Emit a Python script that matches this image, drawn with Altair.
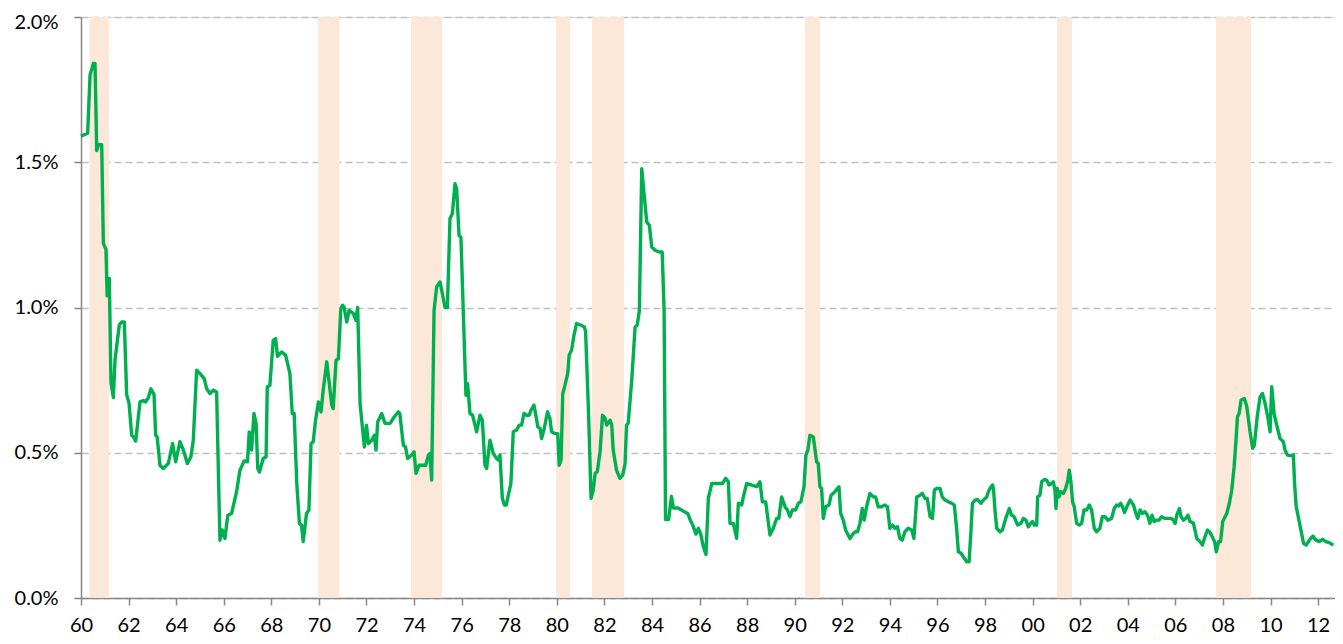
import altair as alt
import pandas as pd

# ---- data (year as decimal, value in %) ----
S_1960S = [
    (1960.00, 1.59), (1960.28, 1.60), (1960.38, 1.80), (1960.52, 1.84), (1960.59, 1.84),
    (1960.66, 1.54), (1960.73, 1.56), (1960.87, 1.56), (1960.94, 1.22), (1961.05, 1.20),
    (1961.10, 1.04), (1961.19, 1.10), (1961.26, 0.74), (1961.36, 0.69), (1961.43, 0.82),
    (1961.61, 0.94), (1961.71, 0.95), (1961.82, 0.95), (1961.92, 0.70), (1962.02, 0.67),
    (1962.13, 0.56), (1962.20, 0.555), (1962.30, 0.54), (1962.48, 0.675), (1962.62, 0.68),
    (1962.72, 0.675), (1962.83, 0.69), (1962.94, 0.72), (1963.07, 0.70), (1963.14, 0.56),
    (1963.20, 0.555), (1963.32, 0.457), (1963.46, 0.446), (1963.67, 0.463), (1963.85, 0.532),
    (1963.98, 0.469), (1964.16, 0.538), (1964.30, 0.51), (1964.47, 0.463), (1964.62, 0.486),
    (1964.72, 0.543), (1964.86, 0.784), (1965.00, 0.773), (1965.18, 0.755), (1965.28, 0.721),
    (1965.42, 0.704), (1965.56, 0.715), (1965.70, 0.709), (1965.84, 0.199), (1965.94, 0.234),
    (1966.05, 0.205), (1966.17, 0.285), (1966.33, 0.291), (1966.54, 0.366), (1966.68, 0.44),
    (1966.86, 0.472), (1967.00, 0.469), (1967.07, 0.572), (1967.17, 0.509), (1967.27, 0.635),
    (1967.36, 0.601), (1967.43, 0.446), (1967.50, 0.434), (1967.66, 0.48), (1967.78, 0.486),
    (1967.83, 0.727), (1967.94, 0.732), (1968.08, 0.887), (1968.18, 0.893), (1968.26, 0.832),
    (1968.43, 0.847), (1968.60, 0.836), (1968.78, 0.773), (1968.88, 0.635), (1968.96, 0.635),
    (1969.07, 0.394), (1969.18, 0.257), (1969.27, 0.251), (1969.34, 0.194), (1969.48, 0.291),
    (1969.58, 0.303), (1969.67, 0.532), (1969.76, 0.538), (1969.86, 0.612), (1969.98, 0.675),
]
S_1970S = [
    (1970.09, 0.641), (1970.18, 0.715), (1970.33, 0.813), (1970.42, 0.75), (1970.54, 0.664),
    (1970.60, 0.652), (1970.72, 0.818), (1970.82, 0.824), (1970.92, 0.996), (1971.00, 1.008),
    (1971.06, 1.0), (1971.17, 0.95), (1971.27, 0.99), (1971.45, 0.979), (1971.55, 0.956),
    (1971.63, 1.0), (1971.73, 0.67), (1971.80, 0.612), (1971.91, 0.52), (1972.00, 0.595),
    (1972.08, 0.532), (1972.22, 0.543), (1972.33, 0.56), (1972.40, 0.509), (1972.47, 0.606),
    (1972.64, 0.635), (1972.78, 0.601), (1972.99, 0.601), (1973.17, 0.624), (1973.34, 0.641),
    (1973.40, 0.635), (1973.55, 0.526), (1973.64, 0.52), (1973.73, 0.48), (1973.90, 0.492),
    (1974.00, 0.503), (1974.08, 0.429), (1974.21, 0.457), (1974.35, 0.457), (1974.49, 0.457),
    (1974.60, 0.492), (1974.67, 0.497), (1974.74, 0.406), (1974.84, 0.99), (1974.95, 1.071),
    (1975.09, 1.088), (1975.19, 1.048), (1975.30, 1.0), (1975.40, 1.0), (1975.51, 1.306),
    (1975.61, 1.323), (1975.72, 1.426), (1975.79, 1.409), (1975.89, 1.248), (1975.97, 1.242),
    (1976.18, 0.698), (1976.25, 0.738), (1976.35, 0.635), (1976.46, 0.629), (1976.63, 0.572),
    (1976.77, 0.629), (1976.87, 0.612), (1976.98, 0.457), (1977.05, 0.446), (1977.19, 0.543),
    (1977.33, 0.498), (1977.47, 0.48), (1977.54, 0.475), (1977.61, 0.492), (1977.71, 0.343),
    (1977.80, 0.32), (1977.88, 0.32), (1977.96, 0.354), (1978.07, 0.394), (1978.17, 0.572),
    (1978.31, 0.578), (1978.42, 0.595), (1978.52, 0.595), (1978.62, 0.635), (1978.73, 0.629),
    (1978.84, 0.629), (1978.91, 0.646), (1979.04, 0.664), (1979.13, 0.624), (1979.20, 0.589),
    (1979.30, 0.583), (1979.36, 0.549), (1979.47, 0.583), (1979.61, 0.641), (1979.71, 0.618),
    (1979.78, 0.572), (1979.92, 0.566),
]
S_1980S = [
    (1980.04, 0.566), (1980.10, 0.457), (1980.18, 0.475), (1980.25, 0.704), (1980.34, 0.732),
    (1980.46, 0.773), (1980.52, 0.836), (1980.62, 0.853), (1980.72, 0.904), (1980.83, 0.945),
    (1981.02, 0.939), (1981.16, 0.933), (1981.21, 0.916), (1981.33, 0.646), (1981.44, 0.343),
    (1981.53, 0.371), (1981.61, 0.429), (1981.70, 0.434), (1981.82, 0.505), (1981.92, 0.629),
    (1982.02, 0.62), (1982.10, 0.595), (1982.24, 0.612), (1982.31, 0.595), (1982.37, 0.509),
    (1982.51, 0.44), (1982.65, 0.412), (1982.77, 0.423), (1982.87, 0.463), (1982.93, 0.595),
    (1983.00, 0.601), (1983.15, 0.75), (1983.29, 0.933), (1983.38, 0.939), (1983.47, 0.99),
    (1983.57, 1.478), (1983.68, 1.38), (1983.78, 1.294), (1983.89, 1.283), (1983.99, 1.208),
    (1984.13, 1.197), (1984.30, 1.191), (1984.43, 1.191), (1984.51, 0.99), (1984.57, 0.27),
    (1984.70, 0.27), (1984.82, 0.35), (1984.90, 0.31), (1985.10, 0.31), (1985.30, 0.30),
    (1985.51, 0.29), (1985.60, 0.27), (1985.72, 0.25), (1985.85, 0.22), (1985.95, 0.24),
    (1986.05, 0.22), (1986.15, 0.18), (1986.27, 0.15), (1986.37, 0.343), (1986.51, 0.394),
    (1986.72, 0.394), (1986.96, 0.394), (1987.10, 0.412), (1987.21, 0.40), (1987.28, 0.257),
    (1987.42, 0.257), (1987.56, 0.205), (1987.63, 0.326), (1987.77, 0.32), (1987.84, 0.348),
    (1987.98, 0.394), (1988.19, 0.389), (1988.40, 0.383), (1988.54, 0.40), (1988.64, 0.331),
    (1988.78, 0.331), (1988.96, 0.217), (1989.10, 0.24), (1989.24, 0.274), (1989.33, 0.274),
    (1989.45, 0.348), (1989.59, 0.314), (1989.69, 0.303), (1989.80, 0.28), (1989.90, 0.303),
]
S_1990S = [
    (1990.04, 0.303), (1990.15, 0.326), (1990.26, 0.331), (1990.39, 0.383), (1990.47, 0.492),
    (1990.55, 0.509), (1990.64, 0.56), (1990.78, 0.555), (1990.92, 0.469), (1990.99, 0.463),
    (1991.06, 0.383), (1991.13, 0.377), (1991.20, 0.274), (1991.30, 0.314), (1991.44, 0.32),
    (1991.53, 0.354), (1991.69, 0.366), (1991.86, 0.383), (1991.93, 0.291), (1992.04, 0.268),
    (1992.14, 0.234), (1992.32, 0.205), (1992.46, 0.222), (1992.55, 0.228), (1992.64, 0.228),
    (1992.74, 0.257), (1992.84, 0.308), (1992.92, 0.268), (1993.02, 0.314), (1993.16, 0.36),
    (1993.30, 0.348), (1993.40, 0.348), (1993.51, 0.314), (1993.65, 0.314), (1993.79, 0.32),
    (1993.90, 0.314), (1994.00, 0.24), (1994.11, 0.251), (1994.21, 0.24), (1994.32, 0.245),
    (1994.42, 0.205), (1994.52, 0.199), (1994.63, 0.228), (1994.77, 0.24), (1994.92, 0.234),
    (1995.01, 0.205), (1995.13, 0.348), (1995.27, 0.354), (1995.36, 0.36), (1995.48, 0.343),
    (1995.57, 0.343), (1995.69, 0.28), (1995.79, 0.274), (1995.87, 0.371), (1995.97, 0.377),
    (1996.11, 0.377), (1996.20, 0.348), (1996.32, 0.337), (1996.46, 0.331), (1996.60, 0.326),
    (1996.71, 0.32), (1996.81, 0.234), (1996.88, 0.159), (1996.99, 0.154), (1997.13, 0.137),
    (1997.23, 0.125), (1997.33, 0.125), (1997.41, 0.234), (1997.47, 0.326), (1997.58, 0.337),
    (1997.69, 0.339), (1997.83, 0.326), (1997.93, 0.337), (1998.07, 0.348), (1998.14, 0.366),
    (1998.25, 0.383), (1998.32, 0.389), (1998.36, 0.37), (1998.42, 0.30), (1998.49, 0.24),
    (1998.63, 0.228), (1998.73, 0.234), (1998.87, 0.274), (1999.02, 0.308), (1999.12, 0.285),
    (1999.22, 0.28), (1999.37, 0.251), (1999.51, 0.257), (1999.61, 0.274), (1999.72, 0.268),
    (1999.82, 0.245), (1999.92, 0.257),
]
S_2000S = [
    (2000.00, 0.263), (2000.07, 0.251), (2000.17, 0.251), (2000.21, 0.348), (2000.31, 0.354),
    (2000.38, 0.40), (2000.49, 0.408), (2000.59, 0.406), (2000.69, 0.389), (2000.80, 0.394),
    (2000.87, 0.40), (2000.94, 0.371), (2000.98, 0.308), (2001.04, 0.377), (2001.11, 0.348),
    (2001.19, 0.366), (2001.29, 0.36), (2001.39, 0.377), (2001.48, 0.406), (2001.54, 0.44),
    (2001.61, 0.40), (2001.68, 0.331), (2001.75, 0.314), (2001.85, 0.257), (2001.96, 0.251),
    (2002.06, 0.257), (2002.16, 0.303), (2002.27, 0.303), (2002.38, 0.32), (2002.48, 0.303),
    (2002.59, 0.24), (2002.69, 0.228), (2002.83, 0.24), (2002.93, 0.28), (2003.04, 0.28),
    (2003.16, 0.268), (2003.32, 0.274), (2003.43, 0.308), (2003.53, 0.32), (2003.62, 0.317),
    (2003.70, 0.326), (2003.78, 0.314), (2003.86, 0.294), (2003.96, 0.314), (2004.10, 0.337),
    (2004.24, 0.32), (2004.34, 0.291), (2004.42, 0.274), (2004.52, 0.303), (2004.62, 0.291),
    (2004.72, 0.297), (2004.83, 0.285), (2004.93, 0.257), (2005.02, 0.285), (2005.11, 0.263),
    (2005.20, 0.268), (2005.31, 0.268), (2005.42, 0.28), (2005.54, 0.274), (2005.68, 0.274),
    (2005.82, 0.274), (2005.92, 0.268), (2005.99, 0.257), (2006.06, 0.285), (2006.17, 0.308),
    (2006.24, 0.28), (2006.34, 0.268), (2006.44, 0.274), (2006.53, 0.285), (2006.62, 0.263),
    (2006.76, 0.257), (2006.90, 0.205), (2007.04, 0.194), (2007.14, 0.182), (2007.22, 0.205),
    (2007.35, 0.234), (2007.46, 0.225), (2007.55, 0.211), (2007.65, 0.194), (2007.72, 0.159),
    (2007.82, 0.194), (2007.90, 0.194), (2007.99, 0.263), (2008.16, 0.291), (2008.27, 0.326),
    (2008.37, 0.371), (2008.47, 0.452), (2008.54, 0.532), (2008.61, 0.624), (2008.68, 0.635),
    (2008.76, 0.681), (2008.90, 0.687), (2009.00, 0.66), (2009.14, 0.572), (2009.25, 0.515),
    (2009.32, 0.526), (2009.44, 0.624), (2009.56, 0.692), (2009.66, 0.704), (2009.77, 0.67),
    (2009.91, 0.612), (2009.98, 0.572),
]
S_2010S = [
    (2010.05, 0.727), (2010.15, 0.635), (2010.26, 0.595), (2010.40, 0.549), (2010.54, 0.538),
    (2010.61, 0.509), (2010.71, 0.492), (2010.81, 0.49), (2010.96, 0.492), (2011.01, 0.394),
    (2011.08, 0.314), (2011.18, 0.274), (2011.29, 0.228), (2011.39, 0.188), (2011.50, 0.182),
    (2011.64, 0.20), (2011.78, 0.213), (2011.90, 0.20), (2012.05, 0.194), (2012.19, 0.202),
    (2012.33, 0.194), (2012.49, 0.19), (2012.64, 0.182),
]

REC_START = [1960.36, 1969.97, 1973.87, 1979.97, 1981.48, 1990.43, 2001.03, 2007.71]
REC_END = [1961.18, 1970.87, 1975.17, 1980.56, 1982.83, 1991.06, 2001.66, 2009.18]

X_TICKS = list(range(1960, 2013, 2))
Y_TICKS = [0.0, 0.5, 1.0, 1.5, 2.0]
X_DOMAIN = [1960, 2012.71]
Y_DOMAIN = [0, 2]

# ---- build tables ----
series = S_1960S + S_1970S + S_1980S + S_1990S + S_2000S + S_2010S
line_df = pd.DataFrame(series, columns=["year", "rate"])
rec_df = pd.DataFrame({"start": REC_START, "end": REC_END})

W, H = 1254, 581
FONT = "Lato"
AX = "#868686"

xscale = alt.Scale(domain=X_DOMAIN, nice=False, zero=False)
yscale = alt.Scale(domain=Y_DOMAIN, nice=False)

xaxis = alt.Axis(
    values=X_TICKS,
    labelExpr="slice('0' + toString(datum.value % 100), -2)",
    title=None, grid=False, tickSize=7, tickColor=AX, tickWidth=1.5,
    domainColor=AX, domainWidth=1.5, labelFont=FONT, labelFontSize=20,
    labelColor="#000000", labelPadding=10, labelFlush=False, labelOverlap=False,
)
yaxis = alt.Axis(
    values=Y_TICKS,
    labelExpr="format(datum.value, '.1f') + '%'",
    labelOffset={"condition": {"test": "datum.value >= 2", "value": 5}, "value": 0},
    title=None, grid=True, gridColor="#BFBFBF", gridDash=[7, 4], gridWidth=1.3,
    tickSize=7, tickColor=AX, tickWidth=1.5, domainColor=AX, domainWidth=1.5,
    labelFont=FONT, labelFontSize=20, labelColor="#000000", labelPadding=16,
)

rec = alt.Chart(rec_df).mark_rect(color="#FCE8D9").encode(
    x=alt.X("start:Q", scale=xscale, axis=xaxis),
    x2="end:Q",
    y=alt.value(0),
    y2=alt.value(H),
)

line = alt.Chart(line_df).mark_line(color="#00B050", strokeWidth=3.4, strokeJoin="round").encode(
    x=alt.X("year:Q", scale=xscale, axis=xaxis),
    y=alt.Y("rate:Q", scale=yscale, axis=yaxis),
)

# whole svg: 1327 x 628 so that page (8px margins) fits the 1343 x 644 window exactly
chart = alt.layer(rec, line).properties(
    width=W, height=H,
    autosize=alt.AutoSizeParams(type="none"),
    padding={"left": 73, "top": 9, "right": 0, "bottom": 38},
).configure_view(stroke=None).configure(background="white")

chart.save("out.html", embed_options={"renderer": "svg", "actions": False})
